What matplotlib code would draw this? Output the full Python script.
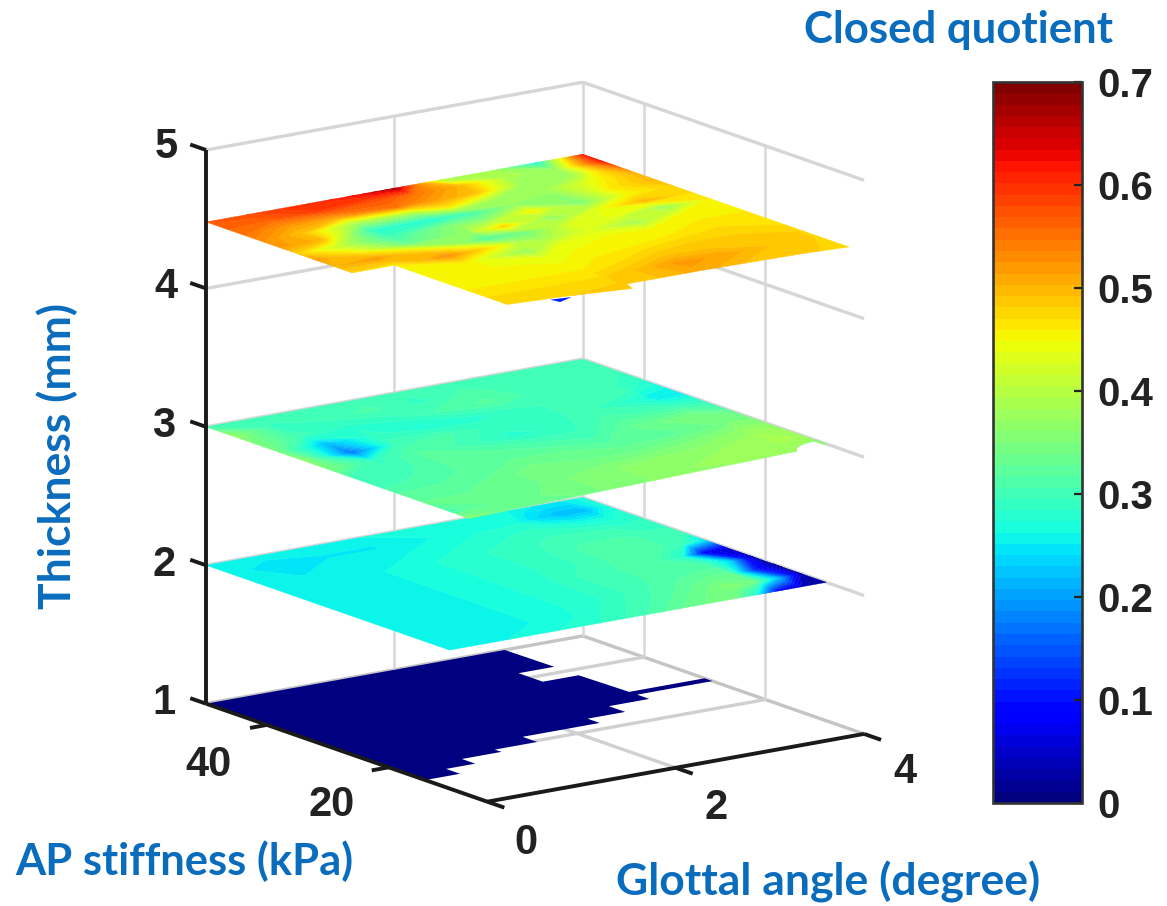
import numpy as np
import matplotlib
matplotlib.use('Agg')
import matplotlib.pyplot as plt
from mpl_toolkits.mplot3d.art3d import Poly3DCollection

W, H = 1167, 906

# thickness of each slice (mm)
thickness = [1, 2, 3, 4.48]

# rows run from AP stiffness 50 down to the front edge of the slice
stiffness = [50, 46, 42, 38, 34, 30, 26, 22, 18, 14, 10]

bottom_angle = [0, 3.17, 3.18, 2.8, 2.8, 3.18, 3.2, 4, 4, 3.2, 3.2, 2.77, 2.77, 2.37,
                2.37, 1.55, 1.55, 1.1, 1.1, 0.68, 0.68, 0.37, 0.37, 0]
bottom_stiff = [50, 50, 42, 42, 38, 38, 30, 30, 28.7, 28.7, 26.7, 26.7, 24, 24,
                22, 22, 19.6, 19.6, 18.5, 18.5, 16.3, 16.3, 14, 14]
bottom_value = 0.0

# 2 mm slice
mid_angle = [0, .5, 1, 1.5, 2, 2.5, 3, 3.25, 3.5, 3.75, 4]
mid_values = [
    [.26, .26, .26, .26, .27, .27, .27, .26, .25, .25, .27],
    [.26, .24, .25, .25, .26, .27, .27, .24, .22, .22, .27],
    [.26, .25, .26, .26, .27, .28, .29, .28, .27, .27, .28],
    [.26, .26, .26, .27, .28, .29, .30, .30, .30, .29, .29],
    [.26, .26, .26, .27, .28, .29, .31, .31, .31, .30, .30],
    [.26, .26, .26, .27, .28, .29, .31, .31, .31, .30, .25],
    [.26, .26, .26, .27, .28, .30, .31, .31, .28, .08, .05],
    [.26, .26, .26, .27, .28, .30, .31, .31, .31, .24, .03],
    [.26, .26, .26, .27, .28, .30, .32, .33, .33, .12, .02],
    [.26, .26, .26, .27, .29, .31, .34, .36, .34, .22, .03],
    [.26, .26, .27, .28, .30, .33, .35, .28, .08, .04, .02],
]

# 3 mm slice, last row is its slanted front edge
upper_angle = [0, .5, 1, 1.5, 2, 2.5, 3, 3.65, 3.7, 4]
upper_front = [6.8, 7.2, 7.5, 7.9, 8.2, 8.6, 8.9, 9.4, 10.9, 11.6]
upper_values = [
    [.30, .30, .30, .30, .30, .30, .30, .30, .30, .30],
    [.37, .29, .30, .31, .29, .31, .30, .30, .30, .30],
    [.35, .30, .28, .29, .31, .32, .30, .30, .30, .29],
    [.34, .22, .29, .27, .28, .29, .30, .30, .29, .27],
    [.37, .17, .30, .31, .29, .29, .30, .27, .25, .25],
    [.35, .29, .32, .30, .28, .29, .31, .30, .30, .29],
    [.30, .30, .32, .32, .31, .30, .33, .35, .35, .32],
    [.30, .31, .32, .33, .33, .32, .32, .34, .35, .35],
    [.32, .32, .33, .35, .34, .34, .35, .37, .38, .37],
    [.33, .33, .33, .35, .36, .37, .37, .38, .39, .38],
    [.31, .33, .34, .35, .36, .37, .38, .38, .37, .36],
    [.37, .33, .33, .35, .36, .37, .37, .37, .37, .36],
]

# 4.5 mm slice has its own rows, nan where nothing was simulated
top_stiffness = [50, 47, 44, 41, 38, 35, 32, 29, 26, 23, 20, 17, 14, 11, 0]
top_angle = [0, .45, 1, 1.65, 1.7, 2, 2.5, 3, 3.5, 4]
top_front = [7.5, 7.5, 6.8, 5.5, 7.2, 7.2, 7.2, 7.0, 6.8, 6.3]
nan = np.nan
top_values = [
    [.57, .58, .60, .63, .64, .67, .39, .39, .27, .62],
    [.56, .56, .59, .57, .57, .55, .50, .39, .37, .62],
    [.55, .52, .51, .55, .54, .52, .49, .37, .38, .55],
    [.53, .49, .38, .38, .40, .46, .38, .38, .44, .50],
    [.52, .50, .28, .27, .28, .30, .37, .36, .46, .50],
    [.48, .41, .30, .36, .36, .36, .46, .35, .45, .48],
    [.52, .46, .33, .37, .41, .48, .36, .44, .50, .47],
    [.50, .52, .46, .31, .32, .34, .43, .44, .37, .46],
    [.48, .46, .53, .44, .41, .38, .43, .38, .45, .45],
    [nan, .45, .46, .37, .38, .44, .45, .45, .46, .46],
    [nan, .45, .45, .44, .44, .45, .45, .46, .47, .46],
    [nan, .45, .45, .45, .45, .46, .47, .48, .48, .47],
    [nan, .46, .46, .46, .46, .47, .49, .49, .49, .48],
    [nan, .47, .47, .47, .48, .49, .52, .51, .49, .48],
    [nan, .48, .48, .49, .49, .49, .51, .49, .49, .47],
]

# small blue piece poking out under the top slice
sliver_angle = [.85, 1.05, .87]
sliver_stiff = [6.6, 6.2, 5.3]
sliver_value = .12

bar_ticks = [0, .1, .2, .3, .4, .5, .6, .7]
bar_labels = ['0', '0.1', '0.2', '0.3', '0.4', '0.5', '0.6', '0.7']

levels = np.linspace(0, .7, 65)
cmap = plt.get_cmap('jet', 64)
norm = plt.Normalize(0, .7)

fig = plt.figure(figsize=(W / 100, H / 100), dpi=100)
S = 906
ax = fig.add_axes([69.8 / W, -1.2 / H, S / W, S / H], projection='3d', proj_type='ortho')
ax.computed_zorder = False
ax.view_init(elev=14.5, azim=234.3)
ax.set_xlim(0, 4, view_margin=0)
ax.set_ylim(3.8, 50, view_margin=0)
ax.set_zlim(1, 5, view_margin=0)
ax.set_box_aspect((464, 482, 572), zoom=0.943)
ax.set_axis_off()


def line3(xs, ys, zs, color='#d6d6d6', lw=2.4, z=1):
    ax.plot(xs, ys, zs, color=color, lw=lw, zorder=z, clip_on=False, solid_capstyle='butt')


# grid on the walls and floor
for zv in [1, 2, 3, 4, 5]:
    col = '#c4c4c4' if zv == 1 else '#d6d6d6'
    line3([0, 4], [50, 50], [zv, zv], col)
    line3([4, 4], [50, 3.8], [zv, zv], col)
line3([2, 2], [50, 50], [1, 5], '#d8d8d8', 1.8)
line3([4, 4], [50, 50], [1, 5], '#d8d8d8', 1.8)
for yv in [40, 20]:
    line3([4, 4], [yv, yv], [1, 5], '#d8d8d8', 1.8)
    line3([0, 4], [yv, yv], [1, 1], '#d0d0d0')
line3([2, 2], [50, 3.8], [1, 1], '#d0d0d0')

# black axes with their ticks
black = '#1a1a1a'
line3([0, 0], [50, 50], [1, 5], black, 2.8, 10)
line3([0, 0], [50, 3.8], [1, 1], black, 2.8, 10)
line3([0, 4], [3.8, 3.8], [1, 1], black, 2.8, 10)
for zv in [1, 2, 3, 4, 5]:
    line3([0, 0], [50, 52.6], [zv, zv], black, 2.8, 10)
for xv in [0, 2, 4]:
    line3([xv, xv], [3.8, 1], [1, 1], black, 2.8, 10)
for yv in [40, 20]:
    line3([0, -.18], [yv, yv], [1, 1], black, 2.8, 10)


def draw_slice(angle, rows, values, z, zorder, front=None):
    v = np.ma.masked_invalid(np.array(values, dtype=float))
    X, Y = np.meshgrid(angle, rows, indexing='xy')
    Y = Y.astype(float)
    if front is not None:
        Y[-1] = front
    cs = ax.contourf(X, Y, v, levels=levels, cmap=cmap, norm=norm, zdir='z', offset=z,
                     extend='both', corner_mask=False, antialiased=True)
    cs.set_zorder(zorder)
    cs.set_edgecolor('face')
    cs.set_linewidth(0.3)
    return cs


verts = [list(zip(bottom_angle, bottom_stiff, [thickness[0]] * len(bottom_angle)))]
ax.add_collection3d(Poly3DCollection(verts, facecolor=cmap(norm(bottom_value)),
                                     edgecolor='none', zorder=3))
draw_slice(mid_angle, stiffness, mid_values, thickness[1], 4)
draw_slice(upper_angle, stiffness + [0], upper_values, thickness[2], 5, upper_front)
verts = [list(zip(sliver_angle, sliver_stiff, [thickness[3]] * 3))]
ax.add_collection3d(Poly3DCollection(verts, facecolor=cmap(norm(sliver_value)),
                                     edgecolor='none', zorder=6))
draw_slice(top_angle, top_stiffness, top_values, thickness[3], 7, top_front)

# colorbar
cax = fig.add_axes([993 / W, 1 - 803 / H, 89 / W, 721 / H])
cb = fig.colorbar(plt.cm.ScalarMappable(norm=norm, cmap=cmap), cax=cax)
cb.set_ticks(bar_ticks)
cb.set_ticklabels(bar_labels)
cb.ax.tick_params(direction='in', length=6, width=1.6, color='#222222', labelsize=29, pad=11,
                  labelcolor='#222222')
for t in cb.ax.get_yticklabels():
    t.set_fontfamily('Liberation Sans')
    t.set_fontweight('bold')
cb.outline.set_linewidth(1.9)
cb.outline.set_edgecolor('#333333')


def label(px, py, s, size, color='#222222', family='Liberation Sans', **kw):
    fig.text(px / W, 1 - py / H, s, fontsize=size, color=color, family=family,
             fontweight='bold', ha='center', va='center', **kw)


for s, px, py in [('5', 166, 147), ('4', 166, 287), ('3', 164, 426), ('2', 164, 565), ('1', 164, 703),
                  ('40', 208, 765), ('20', 332, 805), ('0', 526, 843), ('2', 716, 808), ('4', 905, 772)]:
    label(px, py, s, 30)

blue = '#0a6cbd'
label(958, 30, 'Closed quotient', 31.5, blue, 'Lato')
label(184, 861, 'AP stiffness (kPa)', 31.3, blue, 'Lato')
label(828, 882, 'Glottal angle (degree)', 32, blue, 'Lato')
label(57, 456, 'Thickness (mm)', 32, blue, 'Lato', rotation=90)

fig.savefig('out.png', dpi=100)
